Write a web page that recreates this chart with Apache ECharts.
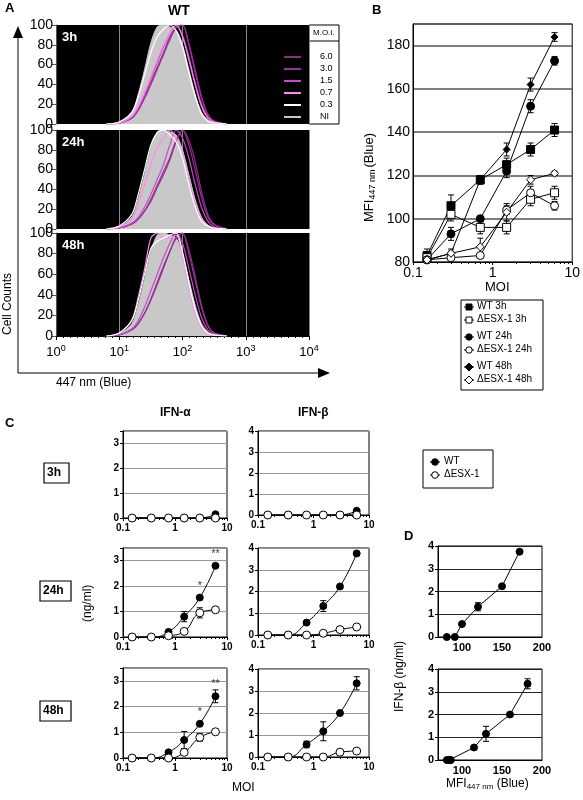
<!DOCTYPE html>
<html><head><meta charset="utf-8">
<script src="https://cdn.jsdelivr.net/npm/echarts@6/dist/echarts.min.js"></script>
<style>html,body{margin:0;padding:0;background:#fff}#c{width:583px;height:800px}</style>
</head><body><div id="c"></div>
<script>
// ---------- DATA ----------
// Panel A histogram bins (log10 of fluorescence)
const histBins = [0.8,1.0,1.2,1.3,1.4,1.5,1.6,1.7,1.8,1.9,2.0,2.1,2.2,2.3,2.4,2.5,2.7];
const histNI = [0,2,12,30,55,82,98,100,98,95,80,55,30,12,4,1,0];
const h3_03 = [0,2,12,28,50,72,88,96,100,94,78,52,28,10,3,1,0];
const h3_07 = [0,1,8,18,32,48,65,80,92,100,88,65,40,18,6,2,0];
const h3_15 = [0,1,7,16,30,46,62,78,92,100,90,68,42,20,7,2,0];
const h3_30 = [0,1,6,14,26,40,55,70,85,97,100,80,52,26,9,3,0];
const h3_60 = [0,1,6,14,27,42,57,72,88,98,100,82,55,28,10,3,0];
const h24_03 = [0,3,15,35,60,85,97,100,95,88,72,45,22,8,3,1,0];
const h24_07 = [0,2,10,25,45,65,82,92,100,92,75,50,26,10,3,1,0];
const h24_15 = [0,1,6,12,22,35,50,65,85,100,92,72,45,22,8,2,0];
const h24_30 = [0,1,5,10,18,30,44,58,72,90,100,85,60,32,12,4,0];
const h24_60 = [0,1,5,10,18,28,42,55,70,88,100,90,68,38,15,5,0];
const h48_03 = [0,3,15,35,60,85,92,95,98,100,82,52,26,10,3,1,0];
const h48_07 = [0,3,16,38,65,95,100,95,95,98,78,48,22,8,2,1,0];
const h48_15 = [0,1,7,15,28,44,60,76,90,100,90,66,40,18,6,2,0];
const h48_30 = [0,1,6,12,22,36,52,68,82,96,100,80,54,28,10,3,0];
const h48_60 = [0,1,6,12,22,35,50,66,82,95,100,84,58,30,11,3,0];
const moiLabels = ['6.0','3.0','1.5','0.7','0.3','NI'];
const moiColors = ['#8a2d86','#a22aa0','#c44cc0','#ff88f0','#ffffff','#c8c8c8'];
const histTimes = ['3h','24h','48h'];
const xTickLabelsA = ['0','1','2','3','4'];

// Panel B
const moiB = [0.15,0.3,0.7,1.5,3,6];
const wt3 = [83,106,118,125,132,141];
const wt3err = [3,5,2,3,3,3];
const dx3 = [82,102,96,96,109,112];
const dx3err = [2,3,3,3,3,3];
const wt24 = [81,93,100,122,152,173];
const wt24err = [1,3,1,3,3,2];
const dx24 = [81,82,83,104,112,106];
const dx24err = [1,1,1,2,3,2];
const wt48 = [81,84,118,132,162,184];
const wt48err = [1,2,2,3,3,2];
const dx48 = [81,84,87,103,118,121];
const dx48err = [1,1,4,4,2,1];

// Panel C
const moiC = [0.15,0.35,0.75,1.5,3,6];
const a3wt = [0,0,0,0,0,0.15], a3dx = [0,0,0,0,0,0];
const b3wt = [0,0,0,0,0,0.2], b3dx = [0,0,0,0,0,0];
const a24wt = [0,0,0.2,0.8,1.55,2.8], a24dx = [0,0,0.05,0.22,0.95,1.07];
const a24wtErr = [0,0,0.05,0.2,0.05,0.05], a24dxErr = [0,0,0,0,0.2,0.05];
const b24wt = [0,0,0.57,1.33,2.23,3.75], b24dx = [0,0,0,0.08,0.25,0.37];
const b24wtErr = [0,0,0.05,0.25,0.05,0.05], b24dxErr = [0,0,0,0,0,0];
const a48wt = [0,0,0.22,0.7,1.33,2.4], a48dx = [0,0,0,0.22,0.8,1.02];
const a48wtErr = [0,0,0.05,0.33,0.05,0.25], a48dxErr = [0,0,0,0,0.15,0.05];
const b48wt = [0,0,0.57,1.17,2.0,3.35], b48dx = [0,0,0,0,0.22,0.27];
const b48wtErr = [0,0,0.15,0.43,0.05,0.3], b48dxErr = [0,0,0,0,0,0];
const stars24 = [[3,'*',1.55],[6,'**',2.8]];
const stars48 = [[3,'*',1.33],[6,'**',2.4]];

// Panel D
const dTopX = [81,91,100,120,150,172], dTopY = [0,0,0.57,1.33,2.23,3.75], dTopErr = [0,0,0.05,0.18,0.05,0.05];
const dBotX = [81,84,86,115,130,160,182], dBotY = [0,0,0,0.55,1.15,2.0,3.35], dBotErr = [0,0,0,0.05,0.33,0.05,0.22];

// ---------- BUILD ----------
const F = 'Liberation Sans, Arial, sans-serif';
const grids=[], xAxes=[], yAxes=[], series=[], graphics=[];
function addGrid(l,t,w,h,xa,ya,extra){
  grids.push(Object.assign({left:l,top:t,width:w,height:h,containLabel:false},extra||{}));
  const gi=grids.length-1;
  xAxes.push(Object.assign({gridIndex:gi},xa)); yAxes.push(Object.assign({gridIndex:gi},ya));
  return gi;
}
function zip(x,y){return x.map((v,i)=>[v,y[i]]);}
function errSeries(gi,x,y,e,capW){
  series.push({type:'custom',xAxisIndex:gi,yAxisIndex:gi,z:1,silent:true,
    data:x.map((v,i)=>[v,y[i]-e[i],y[i]+e[i]]).filter((d,i)=>e[i]>0),
    renderItem:function(p,api){
      const lo=api.coord([api.value(0),api.value(1)]), hi=api.coord([api.value(0),api.value(2)]);
      const w=capW||4, st={stroke:'#000',lineWidth:1};
      return {type:'group',children:[
        {type:'line',shape:{x1:lo[0],y1:lo[1],x2:hi[0],y2:hi[1]},style:st},
        {type:'line',shape:{x1:lo[0]-w,y1:lo[1],x2:lo[0]+w,y2:lo[1]},style:st},
        {type:'line',shape:{x1:hi[0]-w,y1:hi[1],x2:hi[0]+w,y2:hi[1]},style:st}]};
    }});
}
function lineS(gi,data,sym,fill,size,smooth){
  series.push({type:'line',xAxisIndex:gi,yAxisIndex:gi,data:data,symbol:sym,symbolSize:size,smooth:!!smooth,
    showAllSymbol:true,z:3,
    lineStyle:{color:'#000',width:1},itemStyle:{color:fill,borderColor:'#000',borderWidth:1}});
}

// Panel A
const aTops=[25,130,233], aH=[99,99,103];
const histSets=[[h3_60,h3_30,h3_15,h3_07,h3_03],[h24_60,h24_30,h24_15,h24_07,h24_03],[h48_60,h48_30,h48_15,h48_07,h48_03]];
for(let p=0;p<3;p++){
  const last=p===2;
  const gi=addGrid(56,aTops[p],253,aH[p],
    {type:'value',min:0,max:4,interval:1,
     axisLine:{show:last,lineStyle:{color:'#000'}},axisTick:{show:last,length:4,lineStyle:{color:'#000'}},
     minorTick:{show:last,splitNumber:9,length:2},
     splitLine:{show:true,lineStyle:{color:'#888',width:1}},
     axisLabel:{show:last,margin:8,color:'#000',formatter:v=>'{b|10}{s|'+xTickLabelsA[v]+'}',
       rich:{b:{fontSize:13,fontFamily:F,color:'#000'},s:{fontSize:9,fontFamily:F,verticalAlign:'top',padding:[0,0,8,0],color:'#000'}}}},
    {type:'value',min:0,max:100,interval:20,
     axisLine:{show:true,lineStyle:{color:'#555'}},axisTick:{show:true,length:4},
     splitLine:{show:false},axisLabel:{color:'#000',fontSize:14,fontFamily:F,margin:3}},
    {show:true,backgroundColor:'#000',borderWidth:0});
  series.push({type:'line',xAxisIndex:gi,yAxisIndex:gi,data:zip(histBins,histNI),smooth:0.3,symbol:'none',
    lineStyle:{color:'#c8c8c8',width:1},areaStyle:{color:'#c8c8c8',opacity:1},z:2});
  histSets[p].forEach((arr,k)=>{
    series.push({type:'line',xAxisIndex:gi,yAxisIndex:gi,data:zip(histBins,arr),smooth:0.3,symbol:'none',
      lineStyle:{color:moiColors[k],width:1.2},z:3});
  });
  graphics.push({type:'text',left:62,top:aTops[p]+6,style:{text:histTimes[p],fill:'#fff',font:'bold 13px '+F}});
}
// A legend
graphics.push({type:'rect',shape:{x:309,y:25,width:30,height:99},style:{fill:'#fff',stroke:'#000',lineWidth:1}});
graphics.push({type:'line',shape:{x1:309,y1:41,x2:339,y2:41},style:{stroke:'#000'}});
graphics.push({type:'text',x:313,y:29,style:{text:'M.O.I.',fill:'#000',font:'8px '+F}});
moiLabels.forEach((m,k)=>{
  graphics.push({type:'line',shape:{x1:284,y1:57+k*12,x2:301,y2:57+k*12},style:{stroke:moiColors[k],lineWidth:2}});
  graphics.push({type:'text',x:320,y:52+k*12,style:{text:m,fill:'#000',font:'9px '+F}});
});
graphics.push({type:'text',left:5,top:2,style:{text:'A',fill:'#000',font:'bold 13px '+F}});
graphics.push({type:'text',left:168,top:4,style:{text:'WT',fill:'#000',font:'bold 14px '+F}});
graphics.push({type:'line',shape:{x1:18,y1:36,x2:18,y2:373},style:{stroke:'#000',lineWidth:1}});
graphics.push({type:'polygon',shape:{points:[[13,38],[23,38],[18,26]]},style:{fill:'#000'}});
graphics.push({type:'line',shape:{x1:18,y1:373,x2:320,y2:373},style:{stroke:'#000',lineWidth:1}});
graphics.push({type:'polygon',shape:{points:[[318,368],[318,378],[330,373]]},style:{fill:'#000'}});
graphics.push({type:'text',x:2,y:335,rotation:Math.PI/2,style:{text:'Cell Counts',fill:'#000',font:'12px '+F}});
graphics.push({type:'text',left:56,top:377,style:{text:'447 nm (Blue)',fill:'#000',font:'12px '+F}});

// Panel B
const logX = (extra)=>Object.assign({type:'log',logBase:10,min:0.1,max:10,
  axisLine:{lineStyle:{color:'#000'}},axisTick:{show:true,length:3,lineStyle:{color:'#000'}},
  minorTick:{show:true,splitNumber:9,length:2,lineStyle:{color:'#000'}},
  splitLine:{show:false},axisLabel:{color:'#000',fontFamily:F,formatter:v=>String(v)}},extra||{});
const gB=addGrid(413,24,164,238,
  logX({axisLabel:{color:'#000',fontSize:14,fontFamily:F,formatter:v=>String(v),margin:4}}),
  {type:'value',min:80,max:190,interval:20,axisLine:{show:true,lineStyle:{color:'#000'}},axisTick:{show:false},
   splitLine:{show:true,lineStyle:{color:'#555',width:1.5}},axisLabel:{color:'#000',fontSize:14,fontFamily:F,margin:3,showMaxLabel:false}},
  {show:true,borderColor:'#000',borderWidth:1});
[[wt3,wt3err],[dx3,dx3err],[wt24,wt24err],[dx24,dx24err],[wt48,wt48err],[dx48,dx48err]].forEach(([y,e])=>errSeries(gB,moiB,y,e,3));
lineS(gB,zip(moiB,wt3),'rect','#000',8);
lineS(gB,zip(moiB,dx3),'rect','#fff',8);
lineS(gB,zip(moiB,wt24),'circle','#000',8);
lineS(gB,zip(moiB,dx24),'circle','#fff',8);
lineS(gB,zip(moiB,wt48),'diamond','#000',7);
lineS(gB,zip(moiB,dx48),'diamond','#fff',8);
graphics.push({type:'text',left:372,top:4,style:{text:'B',fill:'#000',font:'bold 13px '+F}});
graphics.push({type:'text',left:485,top:281,style:{text:'MOI',fill:'#000',font:'13px '+F}});
graphics.push({type:'text',x:362,y:222,rotation:Math.PI/2,style:{rich:{n:{fontSize:13,fontFamily:F,fill:'#000'},s:{fontSize:9,fontFamily:F,fill:'#000',padding:[6,2,0,0]}},text:'{n|MFI}{s|447 nm}{n|(Blue)}'}});
// B legend
graphics.push({type:'rect',shape:{x:461,y:300,width:82,height:90},style:{fill:'#fff',stroke:'#000'}});
const bLeg=[['rect','#000','WT 3h'],['rect','#fff','ΔESX-1 3h'],['circle','#000','WT 24h'],['circle','#fff','ΔESX-1 24h'],['diamond','#000','WT 48h'],['diamond','#fff','ΔESX-1 48h']];
bLeg.forEach((l,k)=>{
  const y=307+k*13+Math.floor(k/2)*4;
  graphics.push({type:'line',shape:{x1:464,y1:y,x2:474,y2:y},style:{stroke:'#000'}});
  let shp;
  if(l[0]==='rect') shp={type:'rect',shape:{x:466,y:y-3,width:6,height:6}};
  else if(l[0]==='circle') shp={type:'circle',shape:{cx:469,cy:y,r:3.2}};
  else shp={type:'polygon',shape:{points:[[469,y-4],[473,y],[469,y+4],[465,y]]}};
  shp.style={fill:l[1],stroke:'#000'}; graphics.push(shp);
  graphics.push({type:'text',x:477,y:y-6,style:{text:l[2],fill:'#000',font:'10px '+F}});
});

// Panel C
const cRows=[{ta:431,ha:87,tb:431,hb:84},{ta:548,ha:89,tb:548,hb:87},{ta:668,ha:90,tb:669,hb:88}];
const cData=[[a3wt,a3dx,null,null,b3wt,b3dx,null,null,null],
  [a24wt,a24dx,a24wtErr,a24dxErr,b24wt,b24dx,b24wtErr,b24dxErr,stars24],
  [a48wt,a48dx,a48wtErr,a48dxErr,b48wt,b48dx,b48wtErr,b48dxErr,stars48]];
const smallX=()=>logX({axisLabel:{color:'#000',fontSize:10,fontWeight:'bold',fontFamily:F,formatter:v=>String(v),margin:5}});
const smallY=(max)=>({type:'value',min:0,max:max,interval:1,axisLine:{show:true,lineStyle:{color:'#000'}},axisTick:{show:true,length:3,lineStyle:{color:'#000'}},
  splitLine:{show:true,lineStyle:{color:'#999'}},axisLabel:{color:'#000',fontSize:10,fontWeight:'bold',fontFamily:F,margin:4,
  formatter:v=>Number.isInteger(v)?String(v):''}});
cRows.forEach((r,i)=>{
  const d=cData[i];
  const ga=addGrid(123,r.ta,104,r.ha,smallX(),smallY(3.5),{show:true,borderColor:'#000'});
  if(d[2]){errSeries(ga,moiC,d[0],d[2],3);errSeries(ga,moiC,d[1],d[3],3);}
  lineS(ga,zip(moiC,d[0]),'circle','#000',7,0.3);
  lineS(ga,zip(moiC,d[1]),'circle','#fff',8,0.3);
  if(d[8]) series.push({type:'scatter',xAxisIndex:ga,yAxisIndex:ga,symbolSize:1,itemStyle:{color:'transparent'},
    data:d[8].map(s=>({value:[s[0],s[2]],name:s[1]})),
    label:{show:true,position:'top',distance:6,formatter:p=>p.name,fontSize:11,fontFamily:F,color:'#000'}});
  const gb=addGrid(258,r.tb,111,r.hb,smallX(),smallY(4),{show:true,borderColor:'#000'});
  if(d[6]){errSeries(gb,moiC,d[4],d[6],3);}
  lineS(gb,zip(moiC,d[4]),'circle','#000',7,0.3);
  lineS(gb,zip(moiC,d[5]),'circle','#fff',8,0.3);
  const lab=histTimes[i];
  const bw=lab.length>2?31:25, bx=lab.length>2?40:44;
  graphics.push({type:'rect',shape:{x:bx,y:[463,581,701][i],width:bw,height:20},style:{fill:'#fff',stroke:'#000',lineWidth:1.2}});
  graphics.push({type:'text',x:bx+3,y:[467,585,705][i],style:{text:lab,fill:'#000',font:'bold 12px '+F}});
});
graphics.push({type:'text',left:5,top:417,style:{text:'C',fill:'#000',font:'bold 13px '+F}});
graphics.push({type:'text',left:160,top:407,style:{text:'IFN-α',fill:'#000',font:'bold 12px '+F}});
graphics.push({type:'text',left:298,top:407,style:{text:'IFN-β',fill:'#000',font:'bold 12px '+F}});
graphics.push({type:'text',x:82,y:622,rotation:Math.PI/2,style:{text:'(ng/ml)',fill:'#000',font:'12px '+F}});
graphics.push({type:'text',left:232,top:782,style:{text:'MOI',fill:'#000',font:'12px '+F}});
// C legend
graphics.push({type:'rect',shape:{x:423,y:450,width:70,height:38},style:{fill:'#fff',stroke:'#000'}});
[['#000','WT'],['#fff','ΔESX-1']].forEach((l,k)=>{
  const y=462+k*13;
  graphics.push({type:'line',shape:{x1:430,y1:y,x2:440,y2:y},style:{stroke:'#000'}});
  graphics.push({type:'circle',shape:{cx:435,cy:y,r:3.3},style:{fill:l[0],stroke:'#000'}});
  graphics.push({type:'text',x:444,y:y-6,style:{text:l[1],fill:'#000',font:'10px '+F}});
});

// Panel D
const dX=()=>({type:'value',min:70,max:200,interval:10,axisLine:{lineStyle:{color:'#000'}},axisTick:{show:false},splitLine:{show:false},
  axisLabel:{color:'#000',fontSize:11,fontWeight:'bold',fontFamily:F,margin:5,formatter:v=>v%50===0?String(v):''}});
const dY=()=>({type:'value',min:0,max:4,interval:1,axisLine:{show:true,lineStyle:{color:'#000'}},axisTick:{show:true,length:3,lineStyle:{color:'#000'}},
  splitLine:{show:true,lineStyle:{color:'#222',width:1}},axisLabel:{color:'#000',fontSize:11,fontWeight:'bold',fontFamily:F,margin:4}});
const gd1=addGrid(438,546,104,91,dX(),dY(),{show:true,borderColor:'#000'});
errSeries(gd1,dTopX,dTopY,dTopErr,3);
lineS(gd1,zip(dTopX,dTopY),'circle','#000',7);
const gd2=addGrid(438,669,104,91,dX(),dY(),{show:true,borderColor:'#000'});
errSeries(gd2,dBotX,dBotY,dBotErr,3);
lineS(gd2,zip(dBotX,dBotY),'circle','#000',7);
graphics.push({type:'text',left:404,top:530,style:{text:'D',fill:'#000',font:'bold 13px '+F}});
graphics.push({type:'text',x:394,y:712,rotation:Math.PI/2,style:{text:'IFN-β (ng/ml)',fill:'#000',font:'12px '+F}});
graphics.push({type:'text',left:446,top:778,style:{rich:{n:{fontSize:12,fontFamily:F,fill:'#000'},s:{fontSize:8,fontFamily:F,fill:'#000',padding:[6,0,0,0]}},text:'{n|MFI}{s|447 nm}{n| (Blue)}'}});

const chart=echarts.init(document.getElementById('c'),null,{renderer:'canvas'});
chart.setOption({animation:false,grid:grids,xAxis:xAxes,yAxis:yAxes,series:series,graphic:graphics});
</script></body></html>
